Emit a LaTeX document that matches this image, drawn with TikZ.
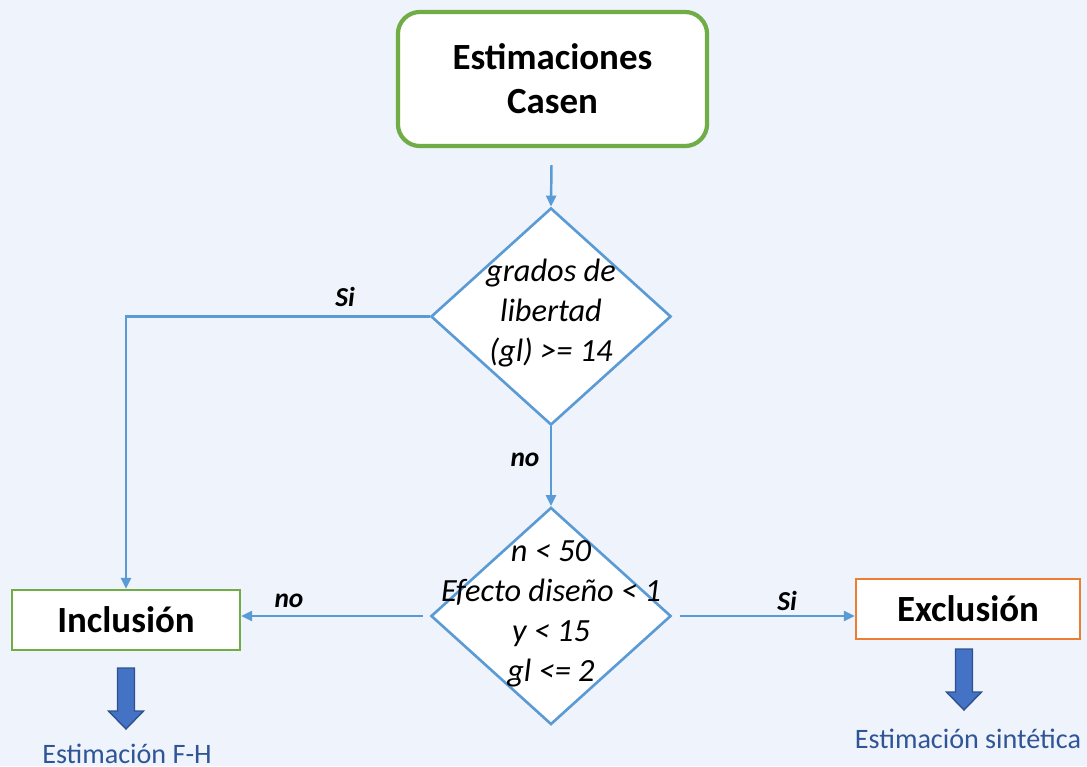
\documentclass[tikz,border=0pt]{standalone}
\usepackage{fontspec}
\setmainfont{Carlito}
\usepackage{xcolor}
\usepackage{tikz}
\usetikzlibrary{shapes.geometric, arrows.meta, positioning}

\definecolor{bgblue}{RGB}{239,243,251}
\definecolor{startgreen}{RGB}{112,173,71}
\definecolor{lineblue}{RGB}{91,155,213}
\definecolor{exorange}{RGB}{237,125,49}
\definecolor{bigblue}{RGB}{68,114,196}
\definecolor{bigblueedge}{RGB}{47,82,143}
\definecolor{textblue}{RGB}{47,85,151}

\tikzset{
  startbox/.style={draw=startgreen, line width=1.2pt, fill=white, rounded corners=0.22cm,
    minimum width=3.09cm, minimum height=1.34cm, align=center,
    font=\fontsize{10.5}{12.5}\selectfont\bfseries},
  decision/.style={diamond, draw=lineblue, line width=0.75pt, fill=white,
    minimum width=2.4cm, minimum height=2.17cm, inner sep=0pt},
  condtext/.style={align=center, font=\fontsize{9.2}{11.4}\selectfont\itshape},
  resultbox/.style={draw, line width=0.6pt, fill=white, minimum height=0.6cm,
    font=\fontsize{10.5}{12}\selectfont\bfseries},
  lbl/.style={font=\fontsize{7.8}{9}\selectfont\bfseries\itshape},
  flow/.style={draw=lineblue, line width=0.7pt, -{Triangle[length=1.1mm, width=1mm]}},
  bigarrow/.style={fill=bigblue, draw=bigblueedge, line width=0.4pt},
  result/.style={text=textblue, font=\fontsize{8}{10}\selectfont}
}

\begin{document}
\begin{tikzpicture}[x=0.01cm, y=-0.01cm]
% Background
\fill[bgblue] (0,0) rectangle (1087,766);
\useasboundingbox (0,0) rectangle (1087,766);

% Nodes
\node[startbox] (start) at (552.5,79) {Estimaciones\\Casen};
\node[decision] (gl) at (551,316.5) {};
\node[condtext] (gltext) at (551,313) {grados de\\libertad\\(gl) >= 14};
\node[decision] (cond) at (551,616) {};
\node[condtext] (condtxt) at (551,614) {n < 50\\Efecto diseño < 1\\y < 15\\gl <= 2};
\node[resultbox, draw=startgreen, minimum width=2.28cm] (inc) at (126,620) {Inclusión};
\node[resultbox, draw=exorange, minimum width=2.24cm] (exc) at (968,609) {Exclusión};

% Connectors
\draw[flow, shorten <=0.17cm] (start) -- (gl.north);
\draw[flow] (gl.west) -| (inc.north);
\draw[flow] (gl.south) -- (cond.north);
\draw[flow, shorten <=0.07cm] (cond.west) -- (cond.west -| inc.east);
\draw[flow, shorten <=0.08cm] (cond.east) -- (cond.east -| exc.west);

% Labels
\node[lbl] at (345,297) {Si};
\node[lbl] at (525,460) {no};
\node[lbl] at (289,601) {no};
\node[lbl] at (787,601) {Si};

% Big arrows
\foreach \x/\y in {126/668, 964/649} {
    \filldraw[bigarrow] (\x-8.5,\y) -- (\x+8.5,\y) -- (\x+8.5,\y+43) -- (\x+17.5,\y+43)
      -- (\x,\y+61) -- (\x-17.5,\y+43) -- (\x-8.5,\y+43) -- cycle;
}
\node[result] (fh) at (127,754) {Estimación F-H};
\node[result] (sint) at (968,739) {Estimación sintética};
\end{tikzpicture}
\end{document}
